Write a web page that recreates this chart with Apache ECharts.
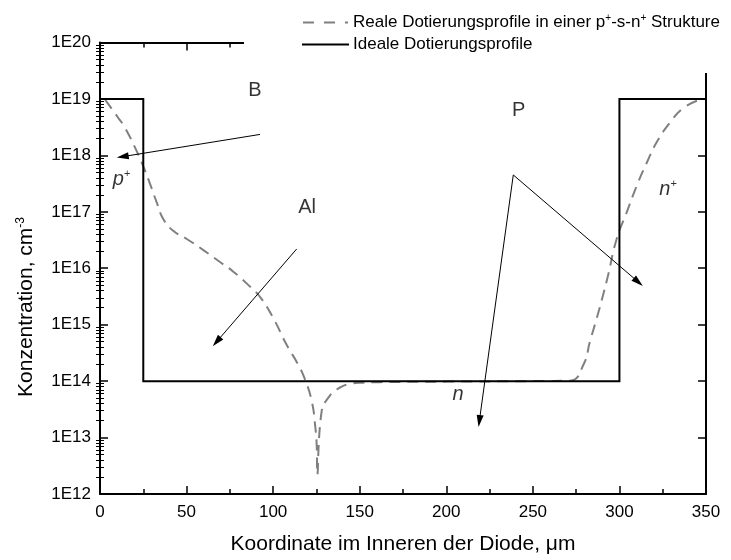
<!DOCTYPE html>
<html>
<head>
<meta charset="utf-8">
<script src="https://cdn.jsdelivr.net/npm/echarts@6/dist/echarts.min.js"></script>
<style>
html,body{margin:0;padding:0;background:#fff;}
#chart{width:731px;height:560px;}
</style>
</head>
<body>
<div id="chart"></div>
<script>
// ---- data ----
const xMin = 0, xMax = 350, xStep = 50;
const yMin = 1e12, yMax = 1e20;
const yTickLabels = ['1E12','1E13','1E14','1E15','1E16','1E17','1E18','1E19','1E20'];

const realName = 'Reale Dotierungsprofile in einer p+-s-n+ Strukture';
const idealName = 'Ideale Dotierungsprofile';

const realX = [3, 10.6, 14.4, 21.2, 24.9, 27.9, 32.7, 36.6, 42.3, 50.1, 59.7, 69.3, 77.0, 84.7, 92.4, 100.1, 107.8, 114.5, 118.4, 122.3, 124.2, 125.2, 125.5, 128.0, 131.9, 136.7, 144.4, 151.9, 161.7, 200, 250, 271.5, 279.2, 283, 286.9, 290.5, 293.4, 298.4, 304.2, 310, 315.8, 321.5, 329.2, 336.9, 346.5];
const realY = [9.6e18, 4.6e18, 3.1e18, 1.19e18, 6.5e17, 3.8e17, 1.48e17, 7.4e16, 4.6e16, 3.3e16, 2.1e16, 1.29e16, 8.7e15, 5.4e15, 3.1e15, 1.3e15, 4.4e14, 1.95e14, 1.07e14, 4.4e13, 1.7e13, 6.7e12, 2.2e12, 2.9e13, 5.1e13, 7.1e13, 8.9e13, 9.4e13, 9.6e13, 9.8e13, 1.0e14, 1.02e14, 1.95e14, 5.1e14, 1.3e15, 3.3e15, 7.4e15, 3.3e16, 9.8e16, 2.9e17, 7.4e17, 1.7e18, 3.8e18, 6.9e18, 9.7e18];

const idealX = [0, 25, 25, 300, 300, 350];
const idealY = [1e19, 1e19, 1e14, 1e14, 1e19, 1e19];

// annotation arrows (data coordinates)
const arrowFrom = [[92.4, 2.35e18], [113.6, 2.2e16], [238.7, 4.5e17], [238.7, 4.5e17]];
const arrowTo   = [[13.1, 9.5e17], [67.4, 5.0e14], [310.9, 5.7e15], [219.1, 1.96e13]];

// annotation texts (data coordinates)
const labelTexts  = ['B', 'P', 'Al', 'p+', 'n+', 'n'];
const labelX      = [89.5, 241.8, 119.6, 12.5, 328.1, 206.8];
const labelY      = [1.44e19, 6.2e18, 1.2e17, 3.8e17, 2.5e17, 5.9e13];
const labelItalic = [false, false, false, true, true, true];

// ---- chart ----
const FONT = "'Liberation Sans', Arial, sans-serif";
const minorVals = [];
for (let e = 12; e < 20; e++) for (let k = 2; k <= 9; k++) minorVals.push(k * Math.pow(10, e));

const chart = echarts.init(document.getElementById('chart'), null, {renderer: 'canvas'});

function yAxisBase(pos) {
  return {
    type: 'log', logBase: 10, min: yMin, max: yMax, splitNumber: 8, position: pos,
    splitLine: {show: false}, minorTick: {show: false}
  };
}

const option = {
  backgroundColor: '#fff',
  animation: false,
  textStyle: {fontFamily: FONT},
  grid: {left: 100, right: 25, top: 42.5, bottom: 63.3},
  legend: {
    data: [
      {name: realName, lineStyle: {type: [11, 10], width: 2}},
      {name: idealName}
    ],
    orient: 'vertical', left: 244, top: 0,
    padding: [13, 8, 20, 58],
    backgroundColor: '#fff',
    itemWidth: 45, itemHeight: 14, itemGap: 5,
    align: 'left',
    selectedMode: false,
    itemStyle: {color: 'rgba(0,0,0,0)', borderColor: 'rgba(0,0,0,0)', borderWidth: 0},
    textStyle: {
      fontSize: 17, color: '#000', fontFamily: FONT,
      rich: {sup: {fontSize: 10, color: '#000', fontFamily: FONT, verticalAlign: 'top', padding: [0, 0, 9, 0]}}
    },
    formatter: function (name) {
      return name.replace(/\+/g, '{sup|+}');
    }
  },
  xAxis: [
    {
      type: 'value', min: xMin, max: xMax, interval: xStep, position: 'bottom',
      name: 'Koordinate im Inneren der Diode, μm', nameLocation: 'middle', nameGap: 40,
      nameTextStyle: {fontSize: 21, color: '#000', fontFamily: FONT},
      axisLine: {show: true, onZero: false, lineStyle: {color: '#000', width: 2}},
      axisTick: {show: true, inside: true, length: 8, lineStyle: {color: '#000', width: 1.5}},
      minorTick: {show: true, splitNumber: 2, length: 5, lineStyle: {color: '#000', width: 1.5}},
      axisLabel: {show: true, fontSize: 17, color: '#000', margin: 10, fontFamily: FONT},
      splitLine: {show: false}
    },
    {
      type: 'value', min: xMin, max: xMax, interval: xStep, position: 'top',
      axisLine: {show: true, onZero: false, lineStyle: {color: '#000', width: 2}},
      axisTick: {show: true, inside: true, length: 8, lineStyle: {color: '#000', width: 1.5}},
      minorTick: {show: true, splitNumber: 2, length: 5, lineStyle: {color: '#000', width: 1.5}},
      axisLabel: {show: false},
      splitLine: {show: false}
    }
  ],
  yAxis: [
    Object.assign(yAxisBase('left'), {
      axisLine: {show: true, onZero: false, lineStyle: {color: '#000', width: 2}},
      axisTick: {show: true, inside: true, length: 8, lineStyle: {color: '#000', width: 1.5}},
      axisLabel: {
        show: true, fontSize: 17, color: '#000', margin: 9, fontFamily: FONT,
        formatter: function (v) { return yTickLabels[Math.round(Math.log10(v)) - 12]; }
      }
    }),
    Object.assign(yAxisBase('left'), {
      axisLine: {show: false},
      axisTick: {show: true, inside: true, length: 4, customValues: minorVals, lineStyle: {color: '#000', width: 1}},
      axisLabel: {show: false}
    }),
    Object.assign(yAxisBase('right'), {
      axisLine: {show: true, onZero: false, lineStyle: {color: '#000', width: 2}},
      axisTick: {show: true, inside: true, length: 8, lineStyle: {color: '#000', width: 1.5}},
      axisLabel: {show: false}
    }),
    Object.assign(yAxisBase('right'), {
      axisLine: {show: false},
      axisTick: {show: true, inside: true, length: 4, customValues: minorVals, lineStyle: {color: '#000', width: 1}},
      axisLabel: {show: false}
    })
  ],
  graphic: [{
    type: 'text', x: 26, y: 307, rotation: Math.PI / 2, z: 10,
    style: {
      text: '{a|Konzentration, cm}{s|-3}',
      textAlign: 'center', textVerticalAlign: 'middle',
      rich: {
        a: {fontSize: 21, fill: '#000', fontFamily: FONT},
        s: {fontSize: 12, fill: '#000', fontFamily: FONT, verticalAlign: 'top', padding: [0, 0, 11, 0]}
      }
    }
  }],
  series: [
    {
      name: realName, type: 'line', xAxisIndex: 0, yAxisIndex: 0,
      data: realX.map((x, i) => [x, realY[i]]),
      symbol: 'none', showSymbol: false, smooth: 0.5,
      lineStyle: {color: '#808080', width: 2, type: [11, 7]},
      itemStyle: {color: '#808080'},
      z: 3
    },
    {
      name: idealName, type: 'line', xAxisIndex: 0, yAxisIndex: 0,
      data: idealX.map((x, i) => [x, idealY[i]]),
      symbol: 'none', showSymbol: false,
      lineStyle: {color: '#000', width: 2, type: 'solid', join: 'miter', cap: 'square'},
      itemStyle: {color: '#000'},
      z: 4
    },
    {
      name: 'annot', type: 'scatter', xAxisIndex: 0, yAxisIndex: 0,
      symbolSize: 1, itemStyle: {color: 'rgba(0,0,0,0)'},
      silent: true,
      data: labelTexts.map((t, i) => ({
        value: [labelX[i], labelY[i]],
        name: t,
        label: {
          show: true, position: 'inside',
          formatter: labelItalic[i]
            ? '{it|' + t.replace('+', '') + '}' + (t.indexOf('+') >= 0 ? '{sup|+}' : '')
            : '{n|' + t + '}',
          rich: {
            n: {fontSize: 20, color: '#000', fontFamily: FONT},
            it: {fontSize: 20, color: '#000', fontStyle: 'italic', fontFamily: FONT},
            sup: {fontSize: 11, color: '#000', fontFamily: FONT, verticalAlign: 'top', padding: [0, 0, 10, 0]}
          }
        }
      })),
      markLine: {
        silent: true, animation: false,
        symbol: ['none', 'triangle'],
        symbolSize: [0, 11],
        lineStyle: {color: '#000', width: 1, type: 'solid'},
        label: {show: false},
        data: arrowFrom.map((f, i) => [
          {coord: f, symbol: 'none'},
          {coord: arrowTo[i], symbol: 'triangle', symbolSize: [7, 12]}
        ])
      },
      z: 5
    }
  ]
};
chart.setOption(option);
</script>
</body>
</html>
